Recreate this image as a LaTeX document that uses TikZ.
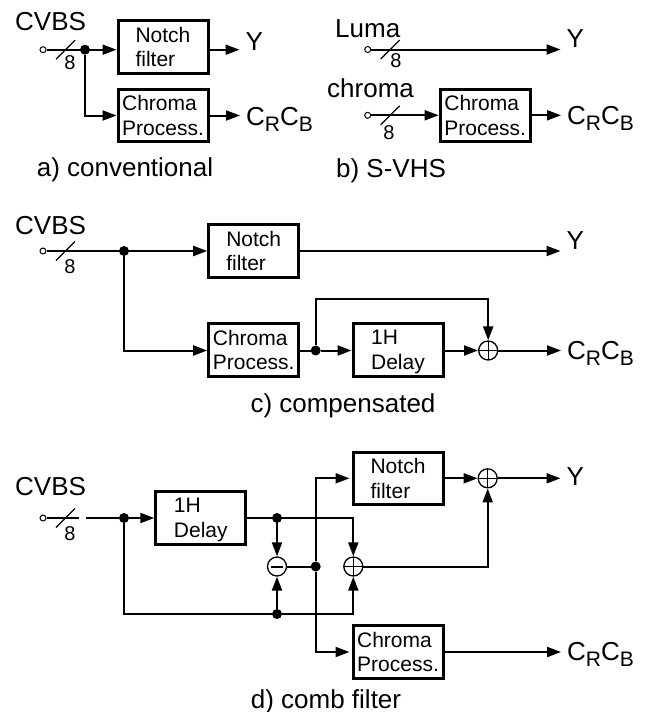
\documentclass[tikz,border=0pt]{standalone}
\usepackage{fontspec}
\setmainfont{Liberation Sans}
\usetikzlibrary{arrows.meta}

\newcommand{\crcb}{C\raisebox{-6pt}{\fontsize{21}{21}\selectfont R}C\raisebox{-6pt}{\fontsize{21}{21}\selectfont B}}

\tikzset{
	blockbox/.style={draw,line width=3pt,minimum width=90pt,minimum height=52.5pt,inner sep=0pt,align=left,font=\fontsize{21}{24.5}\selectfont},
	bigtext/.style={inner sep=0pt,anchor=base west,font=\fontsize{26}{26}\selectfont},
	outtext/.style={bigtext,inner xsep=6pt},
	captext/.style={inner sep=0pt,anchor=base,font=\fontsize{26}{26}\selectfont},
	bustext/.style={inner sep=0pt,font=\fontsize{20}{20}\selectfont},
	joint/.style={circle,fill=black,inner sep=0pt,minimum size=10pt},
	inport/.style={circle,draw,line width=1pt,fill=white,inner sep=0pt,minimum size=6pt},
	sumnode/.style={circle,draw,line width=1.3pt,inner sep=0pt,minimum size=19pt,path picture={
		\draw[line width=1.3pt] (path picture bounding box.west) -- (path picture bounding box.east);
		\draw[line width=1.3pt] (path picture bounding box.north) -- (path picture bounding box.south);}},
	diffnode/.style={circle,draw,line width=1.3pt,inner sep=0pt,minimum size=19pt,path picture={
		\draw[line width=2pt] ([xshift=-6pt]path picture bounding box.center) -- ([xshift=6pt]path picture bounding box.center);}},
	wire/.style={line width=2pt,>={Stealth[inset=0pt,length=14pt,width=10pt]}}
}

\begin{document}
\begin{tikzpicture}[x=1pt,y=-1pt]
			\useasboundingbox (0,0) rectangle (647,712);
			
			% a) conventional
			\node[bigtext] (cvbsa) at (15,30) {CVBS};
			\node[inport] (ina) at (43,49.7) {};
			\node[joint] (dota) at (85,49.7) {};
			\node[blockbox] (notcha) at (163,47) {Notch\\filter};
			\node[blockbox] (chromaa) at (163,115.5) {Chroma\\Process.};
			\node[outtext] (ya) at (239.5,50) {Y};
			\node[outtext] (ca) at (240,125) {\crcb};
			\node[bustext] (busa) at (70,62.5) {8};
			\node[captext] (capa) at (125,176.5) {a) conventional};
			\draw[wire,->] (ina) -- (ina -| notcha.west);
			\draw[wire,->] (dota) |- (chromaa.west);
			\draw[wire,->] (notcha.east |- ina) -- (ina -| ya.west);
			\draw[wire,->] (chromaa.east) -- (chromaa -| ca.west);
			
			% b) S-VHS
			\node[bigtext] (lumab) at (335,37) {Luma};
			\node[bigtext] (chromab) at (327,97) {chroma};
			\node[inport] (inb) at (367.7,49.5) {};
			\node[inport] (inc) at (367.7,115.3) {};
			\node[blockbox] (procb) at (485.2,115.5) {Chroma\\Process.};
			\node[outtext] (yb) at (560.5,47) {Y};
			\node[outtext] (cb) at (561,124) {\crcb};
			\node[bustext] (busb) at (396,61) {8};
			\node[bustext] (busc) at (389,133) {8};
			\node[captext] (capb) at (391,177.5) {b) S-VHS};
			\draw[wire,->] (inb) -- (inb -| yb.west);
			\draw[wire,->] (inc) -- (inc -| procb.west);
			\draw[wire,->] (procb.east |- inc) -- (inc -| cb.west);
			
			% c) compensated
			\node[bigtext] (cvbsc) at (15,234) {CVBS};
			\node[inport] (ind) at (43,251) {};
			\node[joint] (dotc) at (124,251) {};
			\node[blockbox] (notchc) at (253.7,251) {Notch\\filter};
			\node[blockbox] (chromac) at (253.7,350) {Chroma\\Process.};
			\node[joint] (dotd) at (315.7,350.5) {};
			\node[blockbox] (delayc) at (398,350) {1H\\\smash{Delay}};
			\node[sumnode] (sumc) at (488.2,350.5) {};
			\node[outtext] (yc) at (560.5,249) {Y};
			\node[outtext] (cc) at (561,359.5) {\crcb};
			\node[bustext] (busd) at (70,267) {8};
			\node[captext] (capc) at (343,412) {c) compensated};
			\coordinate (topc) at (315.7,299);
			\draw[wire,->] (ind) -- (ind -| notchc.west);
			\draw[wire,->] (notchc.east |- ind) -- (ind -| yc.west);
			\draw[wire,->] (dotc) |- (dotd -| chromac.west);
			\draw[wire] (dotd -| chromac.east) -- (dotd);
			\draw[wire,->] (dotd) -- (dotd -| delayc.west);
			\draw[wire,->] (dotd -| delayc.east) -- (sumc);
			\draw[wire,->] (dotd) -- (topc) -| (sumc);
			\draw[wire,->] (sumc) -- (sumc -| cc.west);
			
			% d) comb filter
			\node[bigtext] (cvbsd) at (15,495) {CVBS};
			\node[inport] (ine) at (43,518) {};
			\coordinate (gapa) at (79,518);
			\coordinate (gapb) at (86,518);
			\node[joint] (dote) at (124,518) {};
			\node[blockbox] (delayd) at (200.8,518) {1H\\\smash{Delay}};
			\node[joint] (dotf) at (277,518) {};
			\node[joint] (dotg) at (277,614) {};
			\node[joint] (doth) at (315.7,566.5) {};
			\node[diffnode] (diffd) at (277,566.5) {};
			\node[sumnode] (sumd) at (353.3,566.5) {};
			\node[blockbox] (notchd) at (398,478.3) {Notch\\filter};
			\node[blockbox] (chromad) at (398,652) {Chroma\\Process.};
			\node[sumnode] (sume) at (487.7,478.3) {};
			\node[outtext] (yd) at (560.5,485) {Y};
			\node[outtext] (cd) at (561,660) {\crcb};
			\node[bustext] (buse) at (70,533.5) {8};
			\node[captext] (capd) at (326,708) {d) comb filter};
			\draw[wire] (ine) -- (gapa);
			\draw[wire] (gapb) -- (dote);
			\draw[wire,->] (dote) -- (delayd.west);
			\draw[wire,->] (delayd.east) -- (delayd.east -| sumd) -- (sumd);
			\draw[wire,->] (dotf) -- (diffd);
			\draw[wire,->] (dotg) -- (diffd);
			\draw[wire] (dote) |- (dotg);
			\draw[wire,->] (dotg) -| (sumd);
			\draw[wire] (diffd) -- (doth);
			\draw[wire,->,shorten >=2pt] (doth) |- (notchd.west);
			\draw[wire,->,shorten >=2pt] (doth) |- (chromad.west);
			\draw[wire,->] (notchd.east) -- (sume);
			\draw[wire,->] (sumd) -| (sume);
			\draw[wire,->] (sume) -- (sume -| yd.west);
			\draw[wire,->] (chromad.east) -- (chromad -| cd.west);
			
			% the bus marks
			\foreach \p in {ina,inb,inc,ind,ine}
			\draw[line width=1.2pt] ([shift={(13,9.5)}]\p.center) -- ([shift={(32,-9.5)}]\p.center);
			\end{tikzpicture}
\end{document}
